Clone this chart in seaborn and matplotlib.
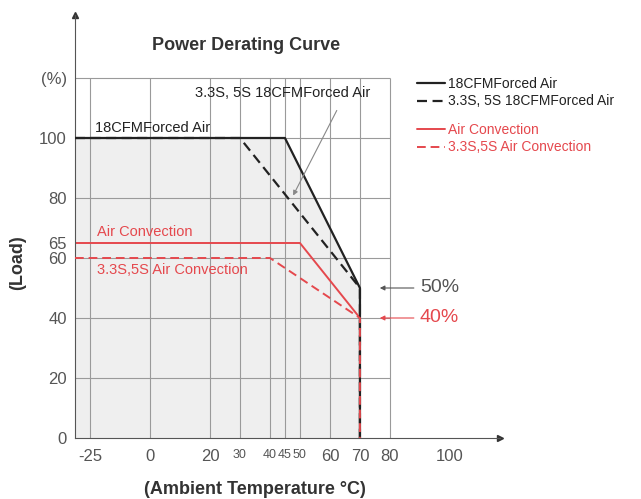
import numpy as np
import pandas as pd
import seaborn as sns
import matplotlib.pyplot as plt

# Data (ambient temperature in degC, load in %)
x_left = -31.25  # left edge of the axis
forced_x = [x_left, 45, 70, 70]
forced_y = [100, 100, 50, 0]
forced33_x = [x_left, 30, 70, 70]
forced33_y = [100, 100, 50, 0]
conv_x = [x_left, 50, 70, 70]
conv_y = [65, 65, 40, 0]
conv33_x = [x_left, 40, 70, 70]
conv33_y = [60, 60, 40, 0]

x_ticks = [-25, 0, 20, 30, 40, 45, 50, 60, 70, 80, 100]
x_small = [30, 40, 45, 50]
y_ticks = [0, 20, 40, 60, 65, 80, 100, 120]
y_labels = ['0', '20', '40', '60', '65', '80', '100', '(%)']
grid_x = [-25, 0, 20, 30, 40, 45, 50, 60, 70, 80]
grid_y = [20, 40, 60, 80, 100, 120]

BLACK = '#222222'
RED = '#e5484d'
GREY = '#555555'

sns.set_theme(style="white")
plt.rcParams['font.family'] = ['Liberation Sans', 'DejaVu Sans']

fig = plt.figure(figsize=(6.41, 4.99), dpi=100)
ax = fig.add_axes([75 / 641, 61 / 499, 425 / 641, 423 / 499])

# below zero the temperature axis is compressed
fwd = lambda v: np.where(np.asarray(v) < 0, np.asarray(v) * 0.8, v)
inv = lambda v: np.where(np.asarray(v) < 0, np.asarray(v) / 0.8, v)
ax.set_xscale('function', functions=(fwd, inv))
ax.set_xlim(x_left, 116.7)
ax.set_ylim(0, 141)

# shaded operating area
ax.fill_between(forced_x[:3], forced_y[:3], color='#efefef', zorder=0)

# grid
ax.vlines(grid_x, 0, 120, color='#9a9a9a', lw=0.8, zorder=1)
ax.hlines(grid_y, x_left, 80, color='#9a9a9a', lw=0.8, zorder=1)

dash = (0, (4.5, 2.5))
sns.lineplot(x=forced_x, y=forced_y, sort=False, estimator=None, color=BLACK,
             lw=1.6, label='18CFMForced Air', ax=ax, zorder=3)
sns.lineplot(x=forced33_x, y=forced33_y, sort=False, estimator=None, color=BLACK,
             lw=1.6, linestyle=dash, label='3.3S, 5S 18CFMForced Air', ax=ax, zorder=3)
sns.lineplot(x=conv_x, y=conv_y, sort=False, estimator=None, color=RED,
             lw=1.4, label='Air Convection', ax=ax, zorder=2)
sns.lineplot(x=conv33_x, y=conv33_y, sort=False, estimator=None, color=RED,
             lw=1.4, linestyle=dash, label='3.3S,5S Air Convection', ax=ax, zorder=4)

# axes look
for s in ['top', 'right']:
    ax.spines[s].set_visible(False)
for s in ['left', 'bottom']:
    ax.spines[s].set_color('#555555')
    ax.spines[s].set_linewidth(0.8)
ax.plot([1], [0], marker='>', color='#333333', ms=4, transform=ax.transAxes, clip_on=False)
ax.plot([0], [1], marker='^', color='#333333', ms=4, transform=ax.transAxes, clip_on=False)

ax.set_xticks(x_ticks)
ax.set_xticklabels([str(v) for v in x_ticks])
ax.set_yticks(y_ticks)
ax.set_yticklabels(y_labels)
ax.tick_params(length=0, labelsize=12, labelcolor=GREY)
ax.tick_params(axis='x', pad=8)
ax.tick_params(axis='y', pad=6)
for lab, v in zip(ax.get_xticklabels(), x_ticks):
    if v in x_small:
        lab.set_fontsize(9)
ax.set_xlabel('')
ax.set_ylabel('')

# in-plot labels
ax.text(-23, 101, '18CFMForced Air', fontsize=10.5, color=BLACK, va='bottom')
ax.text(-22, 68.5, 'Air Convection', fontsize=10.5, color=RED, va='center')
ax.text(-22, 56, '3.3S,5S Air Convection', fontsize=10.5, color=RED, va='center')
ax.annotate('', xy=(47.3, 80), xytext=(62.7, 110),
            arrowprops=dict(arrowstyle='-|>', color='#888888', lw=0.8, mutation_scale=7))
ax.text(15, 115, '3.3S, 5S 18CFMForced Air', fontsize=10.5, color=BLACK, va='center')

ax.annotate('50%', xy=(75.7, 50), xytext=(90, 50), fontsize=14, color=GREY, va='center',
            arrowprops=dict(arrowstyle='-|>', color=GREY, lw=0.8, mutation_scale=7, shrinkA=2))
ax.annotate('40%', xy=(75.7, 40), xytext=(90, 40), fontsize=14, color=RED, va='center',
            arrowprops=dict(arrowstyle='-|>', color=RED, lw=0.8, mutation_scale=7, shrinkA=2))

# legend in two groups
handles, labels = ax.get_legend_handles_labels()
leg_kw = dict(loc='upper left', frameon=False, fontsize=10, handlelength=2.0,
              handletextpad=0.25, labelspacing=0.25, borderpad=0, borderaxespad=0,
              bbox_transform=fig.transFigure)
leg1 = ax.legend(handles[:2], labels[:2], bbox_to_anchor=(417 / 641, 1 - 77 / 499),
                 labelcolor=[BLACK, BLACK], **leg_kw)
ax.add_artist(leg1)
ax.legend(handles[2:], labels[2:], bbox_to_anchor=(417 / 641, 1 - 123 / 499),
          labelcolor=[RED, RED], **leg_kw)

fig.text(246 / 641, 1 - 45 / 499, 'Power Derating Curve', ha='center', va='center',
         fontsize=13, weight='bold', color='#333333')
fig.text(18 / 641, 1 - 263 / 499, '(Load)', rotation=90, ha='center', va='center',
         fontsize=13, weight='bold', color='#333333')
fig.text(255 / 641, 1 - 489 / 499, '(Ambient Temperature °C)', ha='center', va='center',
         fontsize=13, weight='bold', color='#333333')

fig.savefig('out.png', dpi=100)
